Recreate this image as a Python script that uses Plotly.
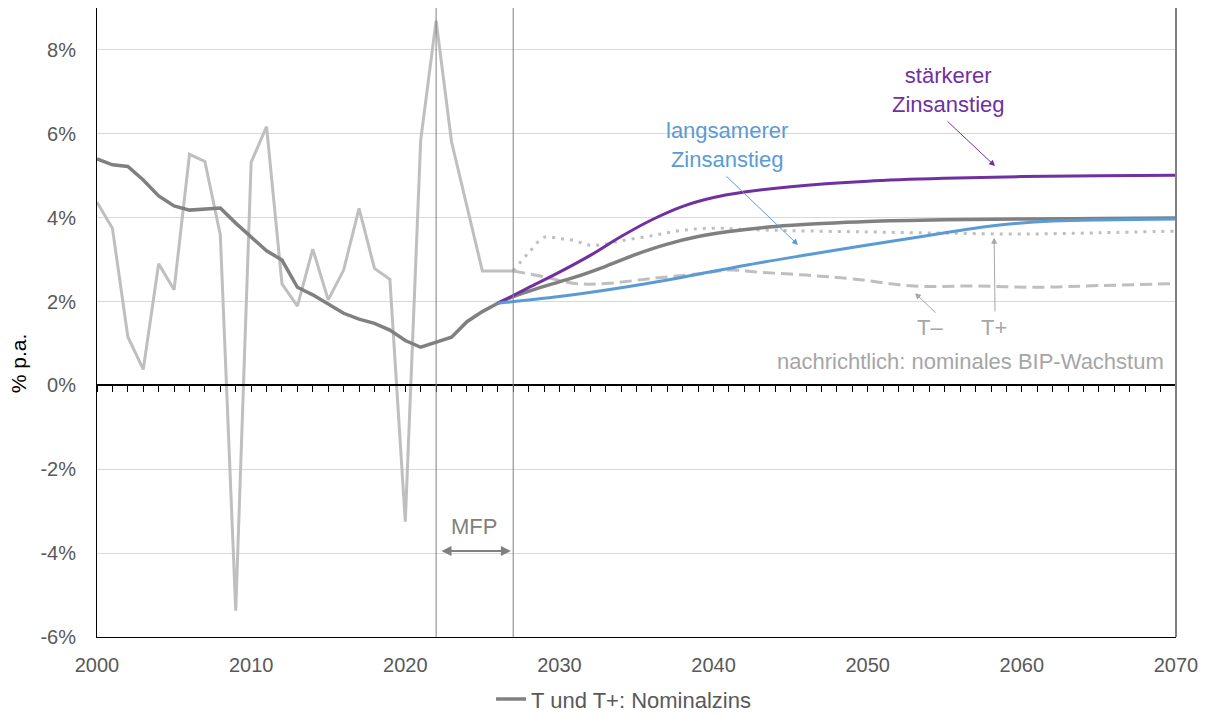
import plotly.graph_objects as go

# ---------------- data ----------------
hist_years = list(range(2000, 2028))
nominal_hist = [5.40, 5.26, 5.22, 4.90, 4.52, 4.28, 4.18, 4.20, 4.23, 3.87,
                3.53, 3.21, 2.99, 2.34, 2.16, 1.94, 1.72, 1.58, 1.48, 1.32,
                1.07, 0.91, 1.02, 1.15, 1.52, 1.76, 1.96, 2.12]
gdp_hist = [4.37, 3.75, 1.16, 0.38, 2.90, 2.28, 5.51, 5.34, 3.59, -5.37,
            5.32, 6.17, 2.42, 1.89, 3.25, 2.04, 2.75, 4.22, 2.79, 2.53,
            -3.25, 5.85, 8.70, 5.81, 4.27, 2.73, 2.73, 2.73]

nominal_proj_years = [2027, 2029, 2031, 2033, 2035, 2037, 2039, 2041, 2044, 2047, 2050, 2055, 2060, 2065, 2070]
nominal_proj = [2.12, 2.36, 2.58, 2.84, 3.13, 3.37, 3.55, 3.67, 3.79, 3.86, 3.91, 3.95, 3.97, 3.98, 3.99]

strong_years = [2026, 2028, 2030, 2032, 2034, 2036, 2038, 2040, 2042, 2045, 2050, 2055, 2060, 2065, 2070]
strong_rise = [1.96, 2.33, 2.70, 3.10, 3.55, 3.95, 4.27, 4.48, 4.61, 4.74, 4.87, 4.94, 4.98, 5.00, 5.01]

slow_years = [2026, 2030, 2034, 2038, 2042, 2046, 2050, 2054, 2058, 2062, 2066, 2070]
slow_rise = [1.96, 2.12, 2.33, 2.58, 2.86, 3.11, 3.35, 3.58, 3.80, 3.92, 3.95, 3.97]

tplus_years = [2027, 2028, 2029, 2030, 2031, 2032, 2033, 2034, 2036, 2038, 2040, 2042, 2045, 2050, 2055, 2060, 2065, 2070]
gdp_tplus = [2.73, 3.16, 3.53, 3.50, 3.45, 3.34, 3.37, 3.45, 3.57, 3.70, 3.75, 3.72, 3.69, 3.66, 3.63, 3.61, 3.64, 3.68]

tminus_years = [2027, 2029, 2031, 2033, 2036, 2039, 2041, 2043, 2046, 2049, 2053, 2057, 2061, 2065, 2070]
gdp_tminus = [2.73, 2.59, 2.43, 2.43, 2.55, 2.66, 2.75, 2.70, 2.63, 2.54, 2.37, 2.37, 2.34, 2.38, 2.43]

x_range = [2000, 2070]
y_range = [-6, 9]
y_ticks = [-6, -4, -2, 0, 2, 4, 6, 8]
y_tick_labels = ["-6%", "-4%", "-2%", "0%", "2%", "4%", "6%", "8%"]
mfp_years = [2022, 2027]

# ---------------- style ----------------
FONT = "Liberation Sans, Arial, sans-serif"
C_NOM = "#808080"
C_GDP = "#BFBFBF"
C_STRONG = "#7030A0"
C_SLOW = "#5B9BD5"
C_NOTE = "#A6A6A6"

fig = go.Figure()

fig.add_trace(go.Scatter(x=hist_years, y=gdp_hist, mode="lines",
                         line=dict(color=C_GDP, width=3), showlegend=False, hoverinfo="skip"))
fig.add_trace(go.Scatter(x=tminus_years, y=gdp_tminus, mode="lines", line_shape="spline",
                         line=dict(color=C_GDP, width=3, dash="12px,6px"), showlegend=False))
fig.add_trace(go.Scatter(x=tplus_years, y=gdp_tplus, mode="lines", line_shape="spline",
                         line=dict(color=C_GDP, width=3, dash="3px,6px"), showlegend=False))
fig.add_trace(go.Scatter(x=nominal_proj_years, y=nominal_proj, mode="lines", line_shape="spline",
                         line=dict(color=C_NOM, width=3.5), showlegend=False))
fig.add_trace(go.Scatter(x=hist_years, y=nominal_hist, mode="lines",
                         line=dict(color=C_NOM, width=3.5), name="T und T+: Nominalzins"))
fig.add_trace(go.Scatter(x=strong_years, y=strong_rise, mode="lines", line_shape="spline",
                         line=dict(color=C_STRONG, width=3), showlegend=False))
fig.add_trace(go.Scatter(x=slow_years, y=slow_rise, mode="lines", line_shape="spline",
                         line=dict(color=C_SLOW, width=3), showlegend=False))
# helper trace to activate the zero-line tick axis
fig.add_trace(go.Scatter(x=x_range, y=[0, 0], xaxis="x2", mode="lines",
                         line=dict(width=0, color="rgba(0,0,0,0)"), showlegend=False, hoverinfo="skip"))

# MFP vertical lines
for yr in mfp_years:
    fig.add_vline(x=yr, line=dict(color="#808080", width=1))

# right border
fig.add_shape(type="line", xref="paper", yref="paper", x0=1, x1=1, y0=0, y1=1,
              line=dict(color="#808080", width=2))

ann = []
def txt(x, y, t, color, size=22, xanchor="center", xref="x", yref="y", angle=0):
    ann.append(dict(x=x, y=y, text=t, showarrow=False, xanchor=xanchor, yanchor="middle",
                    xref=xref, yref=yref, textangle=angle,
                    font=dict(family=FONT, size=size, color=color)))

def arrow(x0, y0, x1, y1, color, width=1, head=2, size=1.2, side="end"):
    ann.append(dict(x=x1, y=y1, ax=x0, ay=y0, axref="x", ayref="y", xref="x", yref="y",
                    text="", showarrow=True, arrowhead=head, arrowsize=size, arrowwidth=width,
                    arrowcolor=color, arrowside=side, startarrowhead=head, startarrowsize=size,
                    standoff=0, startstandoff=0))

txt(2055.27, 7.05, "stärkerer<br>Zinsanstieg", C_STRONG)
txt(2040.87, 5.73, "langsamerer<br>Zinsanstieg", C_SLOW)
txt(2054.04, 1.38, "T–", C_NOTE)
txt(2058.2, 1.38, "T+", C_NOTE)
txt(2069.35, 0.56, "nachrichtlich: nominales BIP-Wachstum", C_NOTE, xanchor="right")
txt(2024.46, -3.37, "MFP", "#808080")
# y-axis title
txt(-0.0725, 0.435, "% p.a.", "black", size=21, xref="paper", yref="paper", angle=-90)

arrow(2055.08, 6.33, 2058.26, 5.23, C_STRONG)
arrow(2040.74, 5.02, 2045.48, 3.35, C_SLOW)
arrow(2054.5, 1.70, 2053.07, 2.20, C_NOTE)
arrow(2058.26, 1.73, 2058.2, 3.52, C_NOTE)
arrow(2022.25, -3.95, 2026.85, -3.95, "#808080", width=2, head=2, size=1.0, side="end+start")

fig.update_layout(
    width=1200, height=705,
    margin=dict(l=89, r=32, t=0, b=76, autoexpand=False),
    paper_bgcolor="white", plot_bgcolor="white",
    font=dict(family=FONT, size=20, color="#595959"),
    annotations=ann,
    showlegend=True,
    legend=dict(orientation="h", x=0.488, xanchor="center", y=-0.099, yanchor="middle",
                font=dict(family=FONT, size=22, color="#595959"), bgcolor="rgba(0,0,0,0)"),
    xaxis=dict(range=x_range, tickmode="linear", tick0=2000, dtick=10, showgrid=False,
               zeroline=False, showline=True, linecolor="black", linewidth=1, mirror=True,
               ticks="", ticklabelstandoff=10, automargin=False,
               tickfont=dict(size=20, color="#595959")),
    xaxis2=dict(range=x_range, overlaying="x", anchor="free", position=0.4, side="bottom",
                tickmode="linear", tick0=2000, dtick=1, ticks="outside", ticklen=6,
                tickcolor="black", tickwidth=1, showticklabels=False, showgrid=False,
                zeroline=False, showline=True, linecolor="black", linewidth=1.5, automargin=False),
    yaxis=dict(range=y_range, tickmode="array", tickvals=y_ticks, ticktext=y_tick_labels,
               showgrid=True, gridcolor="#D9D9D9", gridwidth=1, zeroline=False,
               showline=True, linecolor="black", linewidth=1, ticks="",
               ticklabelstandoff=16, automargin=False,
               tickfont=dict(size=20, color="#595959")),
)

fig.write_html("out.html")
